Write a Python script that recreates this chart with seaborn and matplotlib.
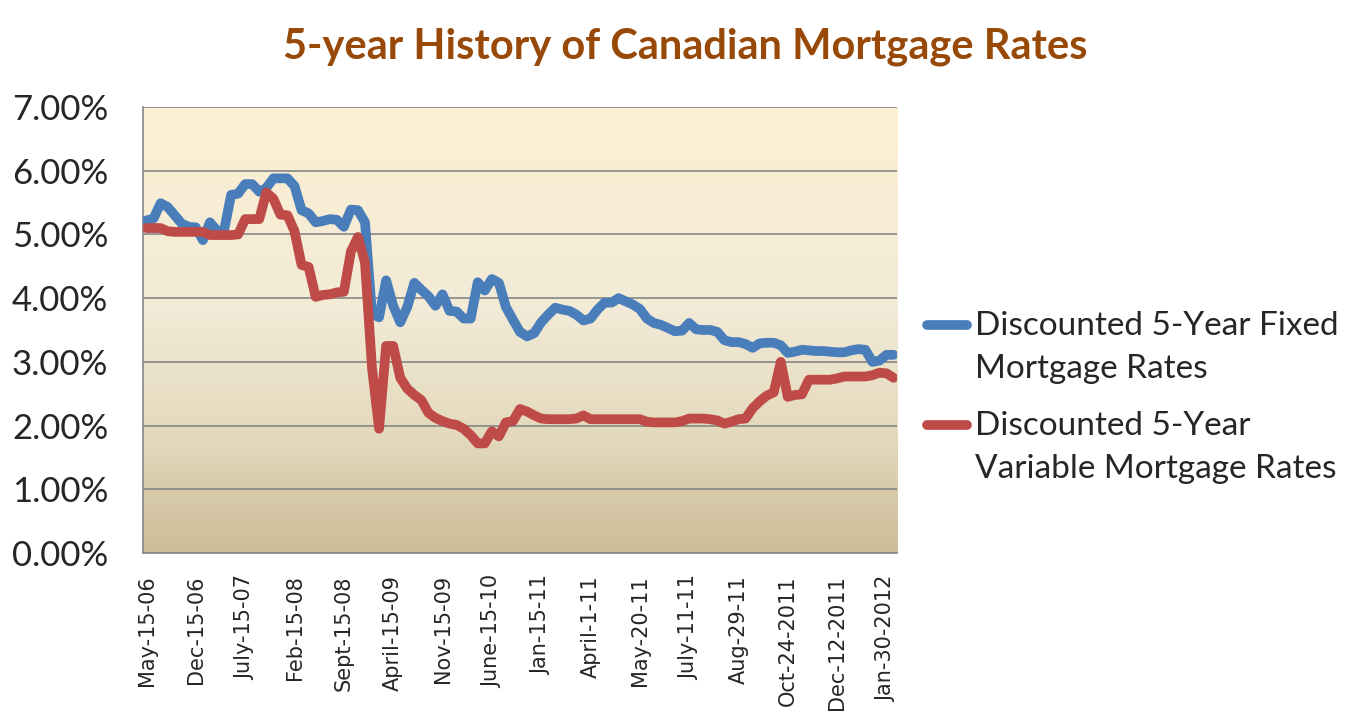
import numpy as np
import pandas as pd
import matplotlib
matplotlib.use("Agg")
import matplotlib.pyplot as plt
from matplotlib.colors import LinearSegmentedColormap
from matplotlib.lines import Line2D
from matplotlib.legend_handler import HandlerLine2D
from matplotlib.ticker import FuncFormatter
import seaborn as sns

fixed_rates = [
    5.22, 5.25, 5.49, 5.43, 5.30, 5.17, 5.12, 5.11, 4.91, 5.19,
    5.06, 5.06, 5.62, 5.64, 5.79, 5.79, 5.67, 5.73, 5.88, 5.88,
    5.88, 5.76, 5.38, 5.33, 5.19, 5.21, 5.24, 5.23, 5.12, 5.39,
    5.38, 5.19, 3.75, 3.70, 4.28, 3.88, 3.62, 3.86, 4.24, 4.13,
    4.03, 3.88, 4.06, 3.80, 3.79, 3.68, 3.68, 4.25, 4.12, 4.30,
    4.24, 3.86, 3.66, 3.47, 3.40, 3.45, 3.62, 3.74, 3.85, 3.82,
    3.80, 3.74, 3.65, 3.68, 3.82, 3.93, 3.93, 4.00, 3.95, 3.90,
    3.83, 3.68, 3.61, 3.58, 3.53, 3.48, 3.49, 3.61, 3.51, 3.50,
    3.50, 3.47, 3.34, 3.31, 3.31, 3.28, 3.22, 3.29, 3.30, 3.30,
    3.26, 3.14, 3.16, 3.19, 3.18, 3.17, 3.17, 3.16, 3.15, 3.15,
    3.18, 3.20, 3.19, 3.00, 3.02, 3.11, 3.11,
]
variable_rates = [
    5.10, 5.10, 5.10, 5.05, 5.04, 5.04, 5.04, 5.04, 5.04, 4.99,
    4.99, 4.99, 4.99, 5.00, 5.24, 5.24, 5.24, 5.66, 5.56, 5.31,
    5.30, 5.05, 4.52, 4.49, 4.02, 4.05, 4.06, 4.09, 4.10, 4.73,
    4.96, 4.56, 2.90, 1.95, 3.25, 3.25, 2.75, 2.58, 2.48, 2.40,
    2.20, 2.12, 2.07, 2.03, 2.01, 1.95, 1.85, 1.72, 1.72, 1.91,
    1.83, 2.05, 2.07, 2.26, 2.22, 2.16, 2.11, 2.10, 2.10, 2.10,
    2.10, 2.11, 2.16, 2.10, 2.10, 2.10, 2.10, 2.10, 2.10, 2.10,
    2.10, 2.06, 2.05, 2.05, 2.05, 2.05, 2.07, 2.11, 2.11, 2.11,
    2.10, 2.08, 2.03, 2.06, 2.10, 2.11, 2.27, 2.38, 2.47, 2.52,
    3.00, 2.45, 2.48, 2.49, 2.72, 2.72, 2.72, 2.72, 2.74, 2.77,
    2.77, 2.77, 2.77, 2.79, 2.83, 2.82, 2.75,
]
tick_labels = [
    "May-15-06", "Dec-15-06", "July-15-07", "Feb-15-08", "Sept-15-08",
    "April-15-09", "Nov-15-09", "June-15-10", "Jan-15-11", "April-1-11",
    "May-20-11", "July-11-11", "Aug-29-11", "Oct-24-2011", "Dec-12-2011",
    "Jan-30-2012",
]
label_step = 7  # one date label every 7 observations
series_names = ["Discounted 5-Year Fixed\nMortgage Rates",
                "Discounted 5-Year\nVariable Mortgage Rates"]
colors = ["#4A7EBB", "#BE4B48"]

n = len(fixed_rates)
df = pd.DataFrame({
    "idx": list(range(n)) * 2,
    "rate": fixed_rates + variable_rates,
    "series": [series_names[0]] * n + [series_names[1]] * n,
})

sns.set_theme(style="white")
plt.rcParams["font.family"] = ["Lato", "DejaVu Sans"]

fig = plt.figure(figsize=(13.71, 7.21), dpi=100)
ax = fig.add_axes([0.1043, 0.233, 0.55, 0.6186])

# gradient plot-area fill
bg = LinearSegmentedColormap.from_list(
    "parchment", [(0.0, "#CDBD98"), (0.25, "#E2D8BB"), (0.55, "#F2EBD7"), (1.0, "#FDEFD2")])
grad = np.linspace(0, 1, 256).reshape(-1, 1)
ax.imshow(grad, extent=[-0.5, n - 0.5, 0, 7], aspect="auto", cmap=bg,
          origin="lower", zorder=0, interpolation="bilinear")

sns.lineplot(data=df, x="idx", y="rate", hue="series", palette=colors,
             linewidth=7, legend=False, ax=ax, zorder=3,
             solid_joinstyle="round", solid_capstyle="round")

ax.set_xlim(-0.5, n - 0.5)
ax.set_ylim(0, 7)
ax.set_yticks(range(0, 8))
ax.yaxis.set_major_formatter(FuncFormatter(lambda v, p: f"{v:.2f}%"))
ax.yaxis.grid(True, color="#868686", linewidth=1.2)
ax.set_axisbelow(True)
ax.set_xticks(range(0, n, label_step))
ax.set_xticklabels(tick_labels, rotation=90, fontsize=15, family="DejaVu Sans")
ax.tick_params(axis="y", labelsize=25, pad=25, length=0)
ax.tick_params(axis="x", pad=16, length=0)
ax.set_xlabel("")
ax.set_ylabel("")
for s in ["top", "right"]:
    ax.spines[s].set_visible(False)
for s in ["left", "bottom"]:
    ax.spines[s].set_color("#868686")
    ax.spines[s].set_linewidth(1.2)

fig.suptitle("5-year History of Canadian Mortgage Rates", x=0.5, y=0.962,
             fontsize=30, fontweight="bold", color="#984807")

# legend: handle sits beside the first line of each two-line label
line_sp = 1.55


class FirstLineHandler(HandlerLine2D):
    def create_artists(self, legend, orig_handle, xdescent, ydescent, width,
                       height, fontsize, trans):
        arts = super().create_artists(legend, orig_handle, xdescent, ydescent,
                                      width, height, fontsize, trans)
        for a in arts:
            a.set_ydata(np.asarray(a.get_ydata()) + 0.43 * line_sp * fontsize)
        return arts


handles = [Line2D([], [], color=c, lw=7) for c in colors]
leg = fig.legend(handles, series_names, loc="center left",
                 bbox_to_anchor=(0.676, 0.449), frameon=False, fontsize=24,
                 handlelength=1.2, handletextpad=0.25, labelspacing=0.8,
                 borderpad=0, borderaxespad=0,
                 handler_map={Line2D: FirstLineHandler()})
for t in leg.get_texts():
    t.set_linespacing(line_sp)

fig.savefig("out.png", dpi=100)
